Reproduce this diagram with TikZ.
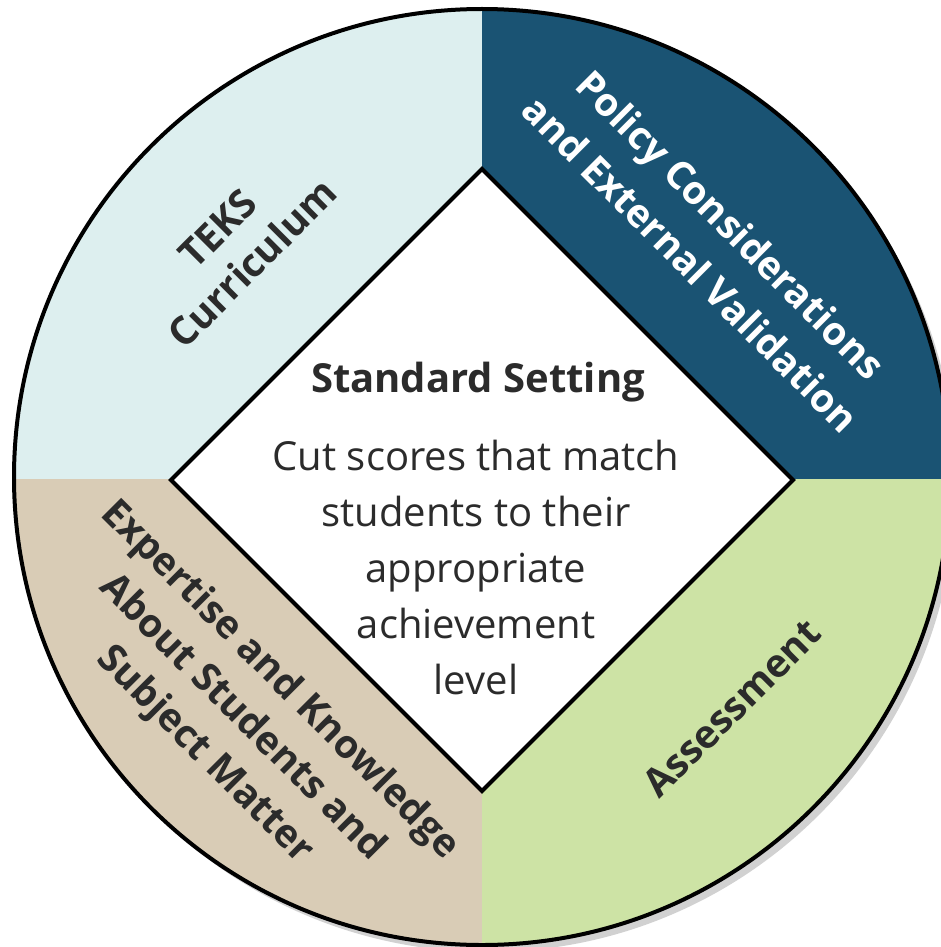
\documentclass[tikz,border=0pt]{standalone}
\usepackage{fontspec}
\setmainfont{Open Sans}
\definecolor{teksc}{HTML}{DDEFEF}
\definecolor{policyc}{HTML}{1A5373}
\definecolor{expc}{HTML}{D9CCB6}
\definecolor{assc}{HTML}{CDE3A5}
\definecolor{inkc}{HTML}{2B2B2B}
\tikzset{
  lab/.style={align=center, text=inkc, inner sep=0pt},
  quadlab/.style={lab, font=\fontsize{39}{49}\selectfont\bfseries},
  outline/.style={line width=4pt, draw=black},
}
\begin{document}
\begin{tikzpicture}[x=1pt,y=-1pt]
\useasboundingbox (0,0) rectangle (941,947);
\fill[white] (0,0) rectangle (941,947);
\coordinate (O) at (482,477);
\coordinate (dT) at (482,169);
\coordinate (dR) at (793,480);
\coordinate (dB) at (482,791);
\coordinate (dL) at (171,480);
% shadow
\fill[black, opacity=0.18] (488,484) circle[radius=468pt];
\begin{scope}
  \clip (O) circle[radius=468pt];
  \fill[teksc] (0,0) rectangle (482,479);
  \fill[policyc] (482,0) rectangle (960,479);
  \fill[expc] (0,479) rectangle (482,960);
  \fill[assc] (482,479) rectangle (960,960);
\end{scope}
\draw[outline] (O) circle[radius=468pt];
\draw[outline, fill=white, line join=miter] (dT) -- (dR) -- (dB) -- (dL) -- cycle;
% quadrant labels
\node[quadlab, rotate=45] (teks) at (235,246) {TEKS\\Curriculum};
\node[quadlab, text=white, rotate=-45, font=\fontsize{39}{56}\selectfont\bfseries] (policy) at (711,244) {Policy Considerations\\and External Validation};
\node[quadlab, rotate=-45, font=\fontsize{39}{53}\selectfont\bfseries] (expertise) at (242,718) {Expertise and Knowledge\\About Students and\\Subject Matter};
\node[quadlab, rotate=45] (assessment) at (732,708) {Assessment};
% center
\node[lab, font=\fontsize{40}{42}\selectfont\bfseries] (title) at (478,382) {Standard Setting};
\node[lab, font=\fontsize{40}{56}\selectfont] (body) at (476,567) {Cut scores that match\\students to their\\appropriate\\achievement\\level};
\end{tikzpicture}
\end{document}
